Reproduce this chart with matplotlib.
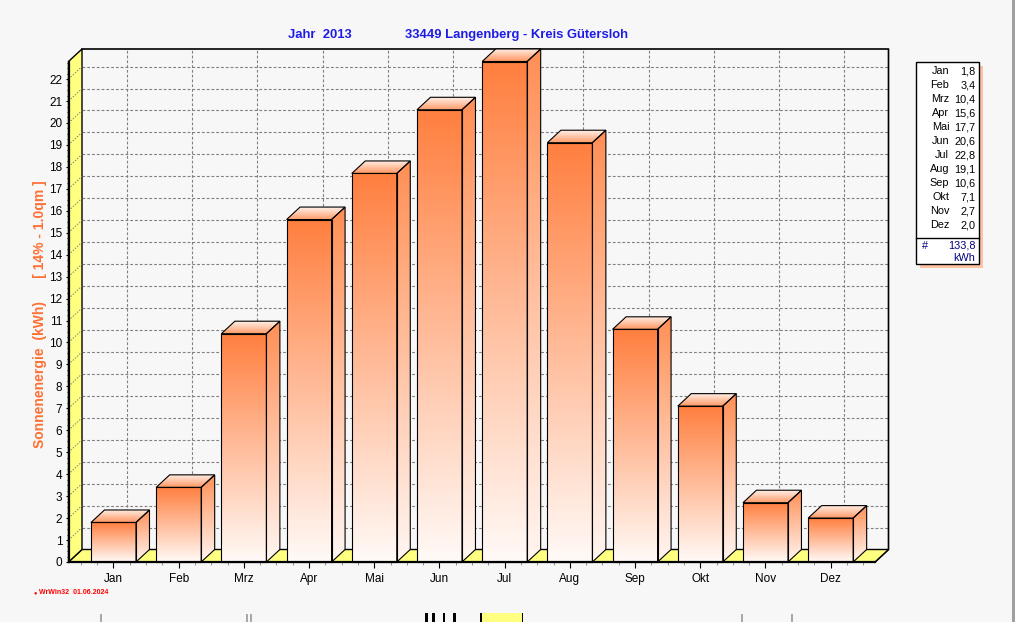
import matplotlib.pyplot as plt
import numpy as np
from matplotlib.colors import to_rgb
from matplotlib.patches import Polygon, Rectangle

# data
months = ['Jan', 'Feb', 'Mrz', 'Apr', 'Mai', 'Jun', 'Jul', 'Aug', 'Sep', 'Okt', 'Nov', 'Dez']
values = [1.8, 3.4, 10.4, 15.6, 17.7, 20.6, 22.8, 19.1, 10.6, 7.1, 2.7, 2.0]
y_ticks = list(range(0, 23))
title_year = 'Jahr  2013'
title_place = '33449 Langenberg - Kreis Gütersloh'
y_label = 'Sonnenenergie  (kWh)      [ 14% - 1.0qm ]'
total_text = '133,8'
unit_text = 'kWh'
footer_text = 'WrWin32  01.06.2024'

W, H = 1015, 622
BG = '#f7f7f7'
YELLOW = '#ffff80'
GRID = '#808080'
plt.rcParams['font.family'] = ['Liberation Sans', 'DejaVu Sans']

fig = plt.figure(figsize=(W / 100, H / 100), dpi=100, facecolor=BG)

# front plane of the 3d box (pixels: x 68.5..875, y 61.5..562)
ax = fig.add_axes([68.5 / W, (H - 562) / H, (875 - 68.5) / W, (562 - 61.5) / H])
x_lo, x_hi = -0.69, 11.68
y_top = 22.8
ax.set_xlim(x_lo, x_hi)
ax.set_ylim(0, y_top)
ax.set_autoscale_on(False)
ax.patch.set_visible(False)

px_x = (875 - 68.5) / (x_hi - x_lo)
px_y = (562 - 61.5) / y_top
DX = 13.5 / px_x
DY = 12.5 / px_y
BW = 45 / px_x


def gradient(c_top, c_bot, n=200):
    top = np.array(to_rgb(c_top))
    bot = np.array(to_rgb(c_bot))
    t = np.linspace(0, 1, n)[:, None]
    return (bot + (top - bot) * t)[:, None, :]


def face(verts, img, z):
    poly = Polygon(verts, closed=True, fc='none', ec='black', lw=0.8,
                   zorder=z + 0.1, clip_on=False)
    ax.add_patch(poly)
    xs = [v[0] for v in verts]
    ys = [v[1] for v in verts]
    im = ax.imshow(img, extent=[min(xs), max(xs), min(ys), max(ys)], origin='lower',
                   aspect='auto', interpolation='bilinear', zorder=z)
    im.set_clip_path(poly)
    im.set_clip_box(fig.bbox)


# back wall
back = Polygon([(x_lo + DX, DY), (x_hi + DX, DY), (x_hi + DX, y_top + DY), (x_lo + DX, y_top + DY)],
               closed=True, fc=BG, ec='none', zorder=0.5, clip_on=False)
ax.add_patch(back)
for v in y_ticks[1:]:
    ax.plot([x_lo + DX, x_hi + DX], [v + DY, v + DY], color=GRID, lw=0.8,
            dashes=(2.5, 1.8), zorder=0.6, clip_on=False)
for i in range(len(months)):
    ax.plot([i + DX, i + DX], [DY, y_top + DY], color=GRID, lw=0.8,
            dashes=(2.5, 1.8), zorder=0.6, clip_on=False)
ax.plot([x_lo + DX, x_hi + DX, x_hi + DX, x_hi], [y_top + DY, y_top + DY, DY, 0],
        color='black', lw=1.2, zorder=0.7, clip_on=False)

# left wall and floor
left = Polygon([(x_lo, 0), (x_lo, y_top), (x_lo + DX, y_top + DY), (x_lo + DX, DY)],
               closed=True, fc=YELLOW, ec='black', lw=1.0, zorder=0.9, clip_on=False)
floor = Polygon([(x_lo, 0), (x_hi, 0), (x_hi + DX, DY), (x_lo + DX, DY)],
                closed=True, fc=YELLOW, ec='black', lw=1.0, zorder=0.8, clip_on=False)
ax.add_patch(floor)
ax.add_patch(left)
for v in y_ticks[1:]:
    ax.plot([x_lo, x_lo + DX], [v, v + DY], color=GRID, lw=0.7,
            dashes=(1.5, 1.5), zorder=0.95, clip_on=False)

# bars
front_img = gradient('#ff7f3f', '#fffaf7')
side_img = gradient('#ff8f55', '#fff6f2')
top_img = gradient('#fff2ea', '#ff9966')
for i, v in enumerate(values):
    x0, x1 = i - BW / 2, i + BW / 2
    face([(x0, 0), (x1, 0), (x1, v), (x0, v)], front_img, 2)
    face([(x1, 0), (x1 + DX, DY), (x1 + DX, v + DY), (x1, v)], side_img, 2)
    face([(x0, v), (x1, v), (x1 + DX, v + DY), (x0 + DX, v + DY)], top_img, 2)

# axes
for s in ['top', 'right']:
    ax.spines[s].set_visible(False)
for s in ['left', 'bottom']:
    ax.spines[s].set_linewidth(1.6)
    ax.spines[s].set_zorder(3)
ax.set_yticks(y_ticks)
ax.set_yticks(np.arange(0, y_top, 0.25), minor=True)
ax.set_xticks(range(len(months)), months)
ax.set_xticks(np.arange(-0.5, 11.6, 0.25), minor=True)
ax.tick_params(axis='y', which='major', direction='out', length=2.5, width=0.8,
               labelsize=8.5, pad=2)
ax.tick_params(axis='y', which='minor', direction='out', length=1.2, width=0.6)
ax.tick_params(axis='x', which='major', direction='out', length=4, width=0.8,
               labelsize=8.5, pad=4)
ax.tick_params(axis='x', which='minor', direction='out', length=2.5, width=0.6,
               color=GRID)

# overlay in pixel coordinates for texts and legend box
ov = fig.add_axes([0, 0, 1, 1], zorder=5)
ov.set_xlim(0, W)
ov.set_ylim(H, 0)
ov.axis('off')
ov.patch.set_visible(False)

blue = '#1c1ce6'
ov.text(320, 35, title_year, color=blue, fontsize=9.4, fontweight='bold', ha='center', va='center')
ov.text(517, 35, title_place, color=blue, fontsize=9.4, fontweight='bold', ha='center', va='center')
ov.text(40, 314, y_label, color='#ff7033', fontsize=10, fontweight='bold', rotation=90,
        ha='center', va='center')

# legend box
ov.add_patch(Rectangle((919.7, 66.3), 63.6, 202, fc='#ffc2a3', ec='none'))
ov.add_patch(Rectangle((915.7, 62.3), 63.6, 202, fc='white', ec='black', lw=1.0))
ov.plot([915.7, 979.3], [237.7, 237.7], color='black', lw=1.0)
for i, (m, v) in enumerate(zip(months, values)):
    y = 71 + 14 * i
    ov.text(949.3, y, m, fontsize=7.8, ha='right', va='center')
    ov.text(975.3, y, f'{v:.1f}'.replace('.', ','), fontsize=7.8, ha='right', va='center')
navy = '#000080'
ov.text(925, 246, '#', color=navy, fontsize=7.8, ha='center', va='center')
ov.text(975.3, 246, total_text, color=navy, fontsize=7.8, ha='right', va='center')
ov.text(975.3, 258, unit_text, color=navy, fontsize=7.8, ha='right', va='center')

# footer
ov.text(35, 593, '●', color='red', fontsize=4, ha='center', va='center')
ov.text(39, 593, footer_text, color='red', fontsize=5, fontweight='bold', ha='left', va='center')

# fragments at the bottom edge and right border
ov.add_patch(Rectangle((480, 612.7), 43, 10, fc=YELLOW, ec='none'))
ov.add_patch(Rectangle((480, 612.7), 2.5, 10, fc='black', ec='none'))
ov.add_patch(Rectangle((522, 612.7), 1.5, 10, fc='black', ec='none'))
for x0, w in [(425, 3), (432, 3), (443, 2), (453, 3)]:
    ov.add_patch(Rectangle((x0, 613), w, 9, fc='black', ec='none'))
for x0, w in [(100, 2.5), (246, 2), (250, 2), (741, 2), (791, 2)]:
    ov.add_patch(Rectangle((x0, 614), w, 8, fc='#a8a8a8', ec='none'))
ov.add_patch(Rectangle((1012.5, 0), 2.5, H, fc='#a0a0a0', ec='none'))

fig.savefig('out.png', dpi=100, facecolor=BG)
